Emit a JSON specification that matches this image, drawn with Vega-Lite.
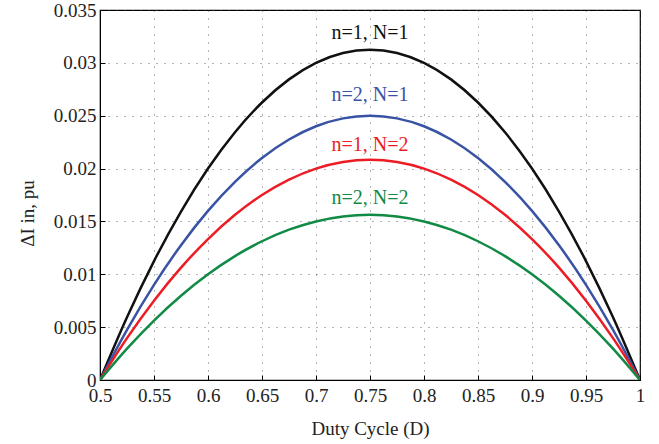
{
  "$schema": "https://vega.github.io/schema/vega-lite/v6.json",
  "width": 540,
  "height": 370,
  "autosize": "none",
  "padding": {"left": 100, "top": 10, "right": 19, "bottom": 64},
  "background": "white",
  "config": {
    "font": "Liberation Serif, DejaVu Serif, serif",
    "view": {"stroke": "black", "strokeWidth": 1.2},
    "axis": {
      "labelFont": "Liberation Serif, DejaVu Serif, serif",
      "titleFont": "Liberation Serif, DejaVu Serif, serif",
      "labelFontSize": 19,
      "titleFontSize": 19,
      "labelColor": "#222",
      "titleColor": "#222",
      "titleFontWeight": "normal",
      "labelFlush": false,
      "labelOverlap": false,
      "domainColor": "black",
      "tickColor": "black",
      "tickSize": -5,
      "gridColor": "#444",
      "gridDash": [1, 7],
      "gridWidth": 1,
      "gridOpacity": 0.8
    }
  },
  "datasets": {
    "curves": [
      {"D": 0.5, "a": 0, "b": 0, "c": 0, "d": 0},
      {"D": 0.525, "a": 0.0059375, "b": 0.00475, "c": 0.003958, "d": 0.00296875},
      {"D": 0.55, "a": 0.01125, "b": 0.009, "c": 0.0075, "d": 0.005625},
      {"D": 0.575, "a": 0.0159375, "b": 0.01275, "c": 0.010625, "d": 0.00796875},
      {"D": 0.6, "a": 0.02, "b": 0.016, "c": 0.013333, "d": 0.01},
      {"D": 0.625, "a": 0.0234375, "b": 0.01875, "c": 0.015625, "d": 0.01171875},
      {"D": 0.65, "a": 0.02625, "b": 0.021, "c": 0.0175, "d": 0.013125},
      {"D": 0.675, "a": 0.0284375, "b": 0.02275, "c": 0.018958, "d": 0.01421875},
      {"D": 0.7, "a": 0.03, "b": 0.024, "c": 0.02, "d": 0.015},
      {"D": 0.725, "a": 0.0309375, "b": 0.02475, "c": 0.020625, "d": 0.01546875},
      {"D": 0.75, "a": 0.03125, "b": 0.025, "c": 0.020833, "d": 0.015625},
      {"D": 0.775, "a": 0.0309375, "b": 0.02475, "c": 0.020625, "d": 0.01546875},
      {"D": 0.8, "a": 0.03, "b": 0.024, "c": 0.02, "d": 0.015},
      {"D": 0.825, "a": 0.0284375, "b": 0.02275, "c": 0.018958, "d": 0.01421875},
      {"D": 0.85, "a": 0.02625, "b": 0.021, "c": 0.0175, "d": 0.013125},
      {"D": 0.875, "a": 0.0234375, "b": 0.01875, "c": 0.015625, "d": 0.01171875},
      {"D": 0.9, "a": 0.02, "b": 0.016, "c": 0.013333, "d": 0.01},
      {"D": 0.925, "a": 0.0159375, "b": 0.01275, "c": 0.010625, "d": 0.00796875},
      {"D": 0.95, "a": 0.01125, "b": 0.009, "c": 0.0075, "d": 0.005625},
      {"D": 0.975, "a": 0.0059375, "b": 0.00475, "c": 0.003958, "d": 0.00296875},
      {"D": 1.0, "a": 0, "b": 0, "c": 0, "d": 0}
    ],
    "labels": [
      {"D": 0.75, "y": 0.0328, "series": "a", "label": "n=1, N=1"},
      {"D": 0.75, "y": 0.0270, "series": "b", "label": "n=2, N=1"},
      {"D": 0.75, "y": 0.0222, "series": "c", "label": "n=1, N=2"},
      {"D": 0.75, "y": 0.0172, "series": "d", "label": "n=2, N=2"}
    ]
  },
  "layer": [
    {
      "data": {"name": "curves"},
      "transform": [{"fold": ["a", "b", "c", "d"], "as": ["series", "dI"]}],
      "mark": {"type": "line", "interpolate": "monotone", "strokeWidth": 2.5, "clip": true},
      "encoding": {
        "x": {
          "field": "D", "type": "quantitative",
          "scale": {"domain": [0.5, 1], "nice": false, "zero": false},
          "axis": {"title": "Duty Cycle (D)", "values": [0.5, 0.55, 0.6, 0.65, 0.7, 0.75, 0.8, 0.85, 0.9, 0.95, 1], "format": ".2~f", "grid": true, "labelPadding": 11, "titlePadding": 14}
        },
        "y": {
          "field": "dI", "type": "quantitative",
          "scale": {"domain": [0, 0.035], "nice": false},
          "axis": {"title": "ΔI in, pu", "values": [0, 0.005, 0.01, 0.015, 0.02, 0.025, 0.03, 0.035], "format": ".3~f", "grid": true, "labelPadding": 9, "titlePadding": 16, "titleY": 203}
        },
        "color": {
          "field": "series", "type": "nominal",
          "scale": {"domain": ["a", "b", "c", "d"], "range": ["#111111", "#3953a4", "#ed1c24", "#108a45"]},
          "legend": null
        },
        "detail": {"field": "series"}
      }
    },
    {
      "data": {"name": "labels"},
      "mark": {"type": "text", "fontSize": 20, "font": "Liberation Serif, DejaVu Serif, serif", "align": "center", "baseline": "middle"},
      "encoding": {
        "x": {"field": "D", "type": "quantitative"},
        "y": {"field": "y", "type": "quantitative"},
        "text": {"field": "label"},
        "color": {"field": "series", "type": "nominal", "legend": null}
      }
    }
  ]
}
